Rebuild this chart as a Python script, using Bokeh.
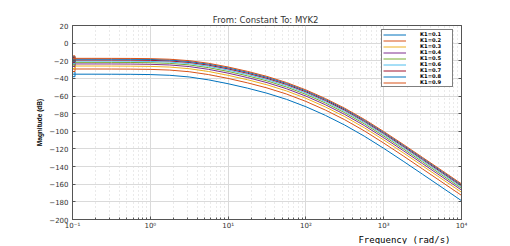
from bokeh.plotting import figure
from bokeh.models import (FixedTicker, LinearAxis, Range1d, Title, Legend, LegendItem,
                          CustomJSTickFormatter)
from bokeh.embed import file_html
from bokeh.resources import INLINE

# ---- data ----
freq = [0.1, 0.178, 0.316, 0.562, 1.0, 1.78, 3.16, 5.62, 10.0, 17.8, 31.6, 56.2,
        100.0, 178.0, 316.0, 562.0, 1000.0, 1780.0, 3160.0, 5620.0, 10000.0]

mag_k01 = [-35.20, -35.21, -35.25, -35.34, -35.64, -36.48, -38.38, -41.67, -46.03, -51.08, -56.81, -63.71,
           -72.11, -81.90, -92.93, -105.46, -119.30, -133.86, -148.72, -163.67, -178.67]
mag_k02 = [-29.33, -29.34, -29.37, -29.47, -29.76, -30.57, -32.43, -35.68, -40.03, -45.06, -50.79, -57.69,
           -66.09, -75.89, -86.91, -99.44, -113.29, -127.84, -142.71, -157.65, -172.65]
mag_k03 = [-25.95, -25.96, -25.99, -26.09, -26.36, -27.15, -28.98, -32.19, -36.52, -41.54, -47.27, -54.17,
           -62.57, -72.36, -83.39, -95.92, -109.76, -124.32, -139.18, -154.13, -169.13]
mag_k04 = [-23.60, -23.61, -23.64, -23.73, -24.00, -24.77, -26.55, -29.73, -34.03, -39.05, -44.77, -51.67,
           -60.07, -69.86, -80.89, -93.42, -107.26, -121.82, -136.68, -151.63, -166.63]
mag_k05 = [-21.80, -21.81, -21.84, -21.93, -22.19, -22.94, -24.69, -27.83, -32.11, -37.11, -42.83, -49.73,
           -58.13, -67.92, -78.95, -91.48, -105.32, -119.88, -134.74, -149.69, -164.69]
mag_k06 = [-20.36, -20.37, -20.40, -20.48, -20.74, -21.46, -23.18, -26.28, -30.54, -35.54, -41.25, -48.15,
           -56.55, -66.34, -77.37, -89.90, -103.74, -118.30, -133.16, -148.11, -163.11]
mag_k07 = [-19.16, -19.17, -19.20, -19.28, -19.53, -20.23, -21.91, -24.98, -29.22, -34.21, -39.92, -46.82,
           -55.21, -65.00, -76.03, -88.56, -102.40, -116.96, -131.82, -146.77, -161.77]
mag_k08 = [-18.14, -18.15, -18.18, -18.26, -18.50, -19.18, -20.83, -23.86, -28.07, -33.06, -38.76, -45.66,
           -54.05, -63.84, -74.87, -87.40, -101.24, -115.80, -130.66, -145.61, -160.61]
mag_k09 = [-17.25, -17.26, -17.29, -17.36, -17.59, -18.27, -19.88, -22.87, -27.06, -32.04, -37.74, -44.64,
           -53.03, -62.82, -73.85, -86.38, -100.22, -114.78, -129.64, -144.59, -159.59]

series_labels = ["K1=0.1", "K1=0.2", "K1=0.3", "K1=0.4", "K1=0.5",
                 "K1=0.6", "K1=0.7", "K1=0.8", "K1=0.9"]
series_values = [mag_k01, mag_k02, mag_k03, mag_k04, mag_k05,
                 mag_k06, mag_k07, mag_k08, mag_k09]
yticks = [-200, -180, -160, -140, -120, -100, -80, -60, -40, -20, 0, 20]

title_text = "From: Constant  To: MYK2"
xlabel_text = "Frequency (rad/s)"
ylabel_text = "Magnitude (dB)"

# ---- styles ----
colors = ["#0072BD", "#D95319", "#EDB120", "#7E2F8E", "#77AC30",
          "#4DBEEE", "#A2142F", "#0072BD", "#D95319"]
axis_col = "#555555"
text_col = "#333333"

p = figure(width=502, height=244, x_axis_type="log",
           x_range=Range1d(0.1, 10000), y_range=Range1d(-200, 20),
           output_backend="svg", toolbar_location=None,
           min_border_left=72, min_border_right=41,
           min_border_top=25, min_border_bottom=25)

p.title.text = title_text
p.title.align = "center"
p.title.text_font = "DejaVu Sans"
p.title.text_font_size = "8.5px"
p.title.text_font_style = "normal"
p.title.text_color = text_col
p.title.standoff = 2

p.outline_line_color = axis_col
p.outline_line_width = 1
p.background_fill_color = "white"

# grids
p.xgrid.grid_line_color = "#dadada"
p.xgrid.minor_grid_line_color = "#d4d4d4"
p.xgrid.minor_grid_line_dash = "1 3"
p.ygrid.grid_line_color = "#dadada"
p.ygrid.ticker = FixedTicker(ticks=yticks)

# x axis
xa = p.xaxis[0]
xa.axis_line_color = axis_col
xa.major_tick_line_color = axis_col
xa.minor_tick_line_color = axis_col
xa.major_tick_in = 3
xa.major_tick_out = 0
xa.minor_tick_in = 2
xa.minor_tick_out = 0
xa.major_label_standoff = 2
xa.major_label_text_font = "DejaVu Sans"
xa.major_label_text_font_size = "7px"
xa.major_label_text_color = text_col
xa.formatter = CustomJSTickFormatter(code="""
const e = Math.round(Math.log10(tick));
const sup = {"-": "\\u207b", "0": "\\u2070", "1": "\\u00b9", "2": "\\u00b2", "3": "\\u00b3",
             "4": "\\u2074", "5": "\\u2075", "6": "\\u2076", "7": "\\u2077", "8": "\\u2078", "9": "\\u2079"};
return "10" + String(e).split("").map(c => sup[c]).join("");
""")

# y axis
ya = p.yaxis[0]
ya.ticker = FixedTicker(ticks=yticks, minor_ticks=[])
ya.axis_line_color = axis_col
ya.major_tick_line_color = axis_col
ya.major_tick_in = 3
ya.major_tick_out = 0
ya.minor_tick_in = 0
ya.minor_tick_out = 0
ya.major_label_standoff = 4
ya.major_label_text_font = "DejaVu Sans"
ya.major_label_text_font_size = "7px"
ya.major_label_text_color = text_col
ya.axis_label = ylabel_text
ya.axis_label_text_font = "Liberation Sans"
ya.axis_label_text_font_size = "6.5px"
ya.axis_label_text_font_style = "bold"
ya.axis_label_text_color = "black"
ya.axis_label_standoff = 3

# right axis with inward ticks only (no labels)
ra = LinearAxis(ticker=FixedTicker(ticks=yticks, minor_ticks=[]),
                formatter=CustomJSTickFormatter(code="return ''"),
                axis_line_color=axis_col,
                major_tick_line_color=axis_col, major_tick_in=3, major_tick_out=0,
                minor_tick_in=0, minor_tick_out=0)
p.add_layout(ra, "right")

items = []
for lab, vals, c in zip(series_labels, series_values, colors):
    r = p.line(freq, vals, line_color=c, line_width=1)
    p.scatter([freq[0]], [vals[0]], marker="square", size=5,
              fill_color=None, line_color=c, line_width=1)
    items.append(LegendItem(label=lab, renderers=[r]))

leg = Legend(items=items, location=(309, 132), orientation="vertical")
leg.border_line_color = "black"
leg.border_line_width = 1
leg.background_fill_color = "white"
leg.background_fill_alpha = 1
leg.padding = 1
leg.margin = 0
leg.spacing = 0
leg.glyph_width = 23
leg.glyph_height = 5
leg.label_height = 5
leg.label_width = 31
leg.label_standoff = 14
leg.label_text_font = "DejaVu Sans"
leg.label_text_font_size = "5.2px"
leg.label_text_font_style = "bold"
leg.label_text_color = "black"
leg.label_text_baseline = "middle"
p.add_layout(leg, "center")

xt = Title(text=xlabel_text, align="right", offset=11, standoff=0,
           text_font="DejaVu Sans Mono", text_font_size="9px",
           text_font_style="normal", text_color="black")
p.add_layout(xt, "below")

open("out.html", "w").write(file_html(p, INLINE))
